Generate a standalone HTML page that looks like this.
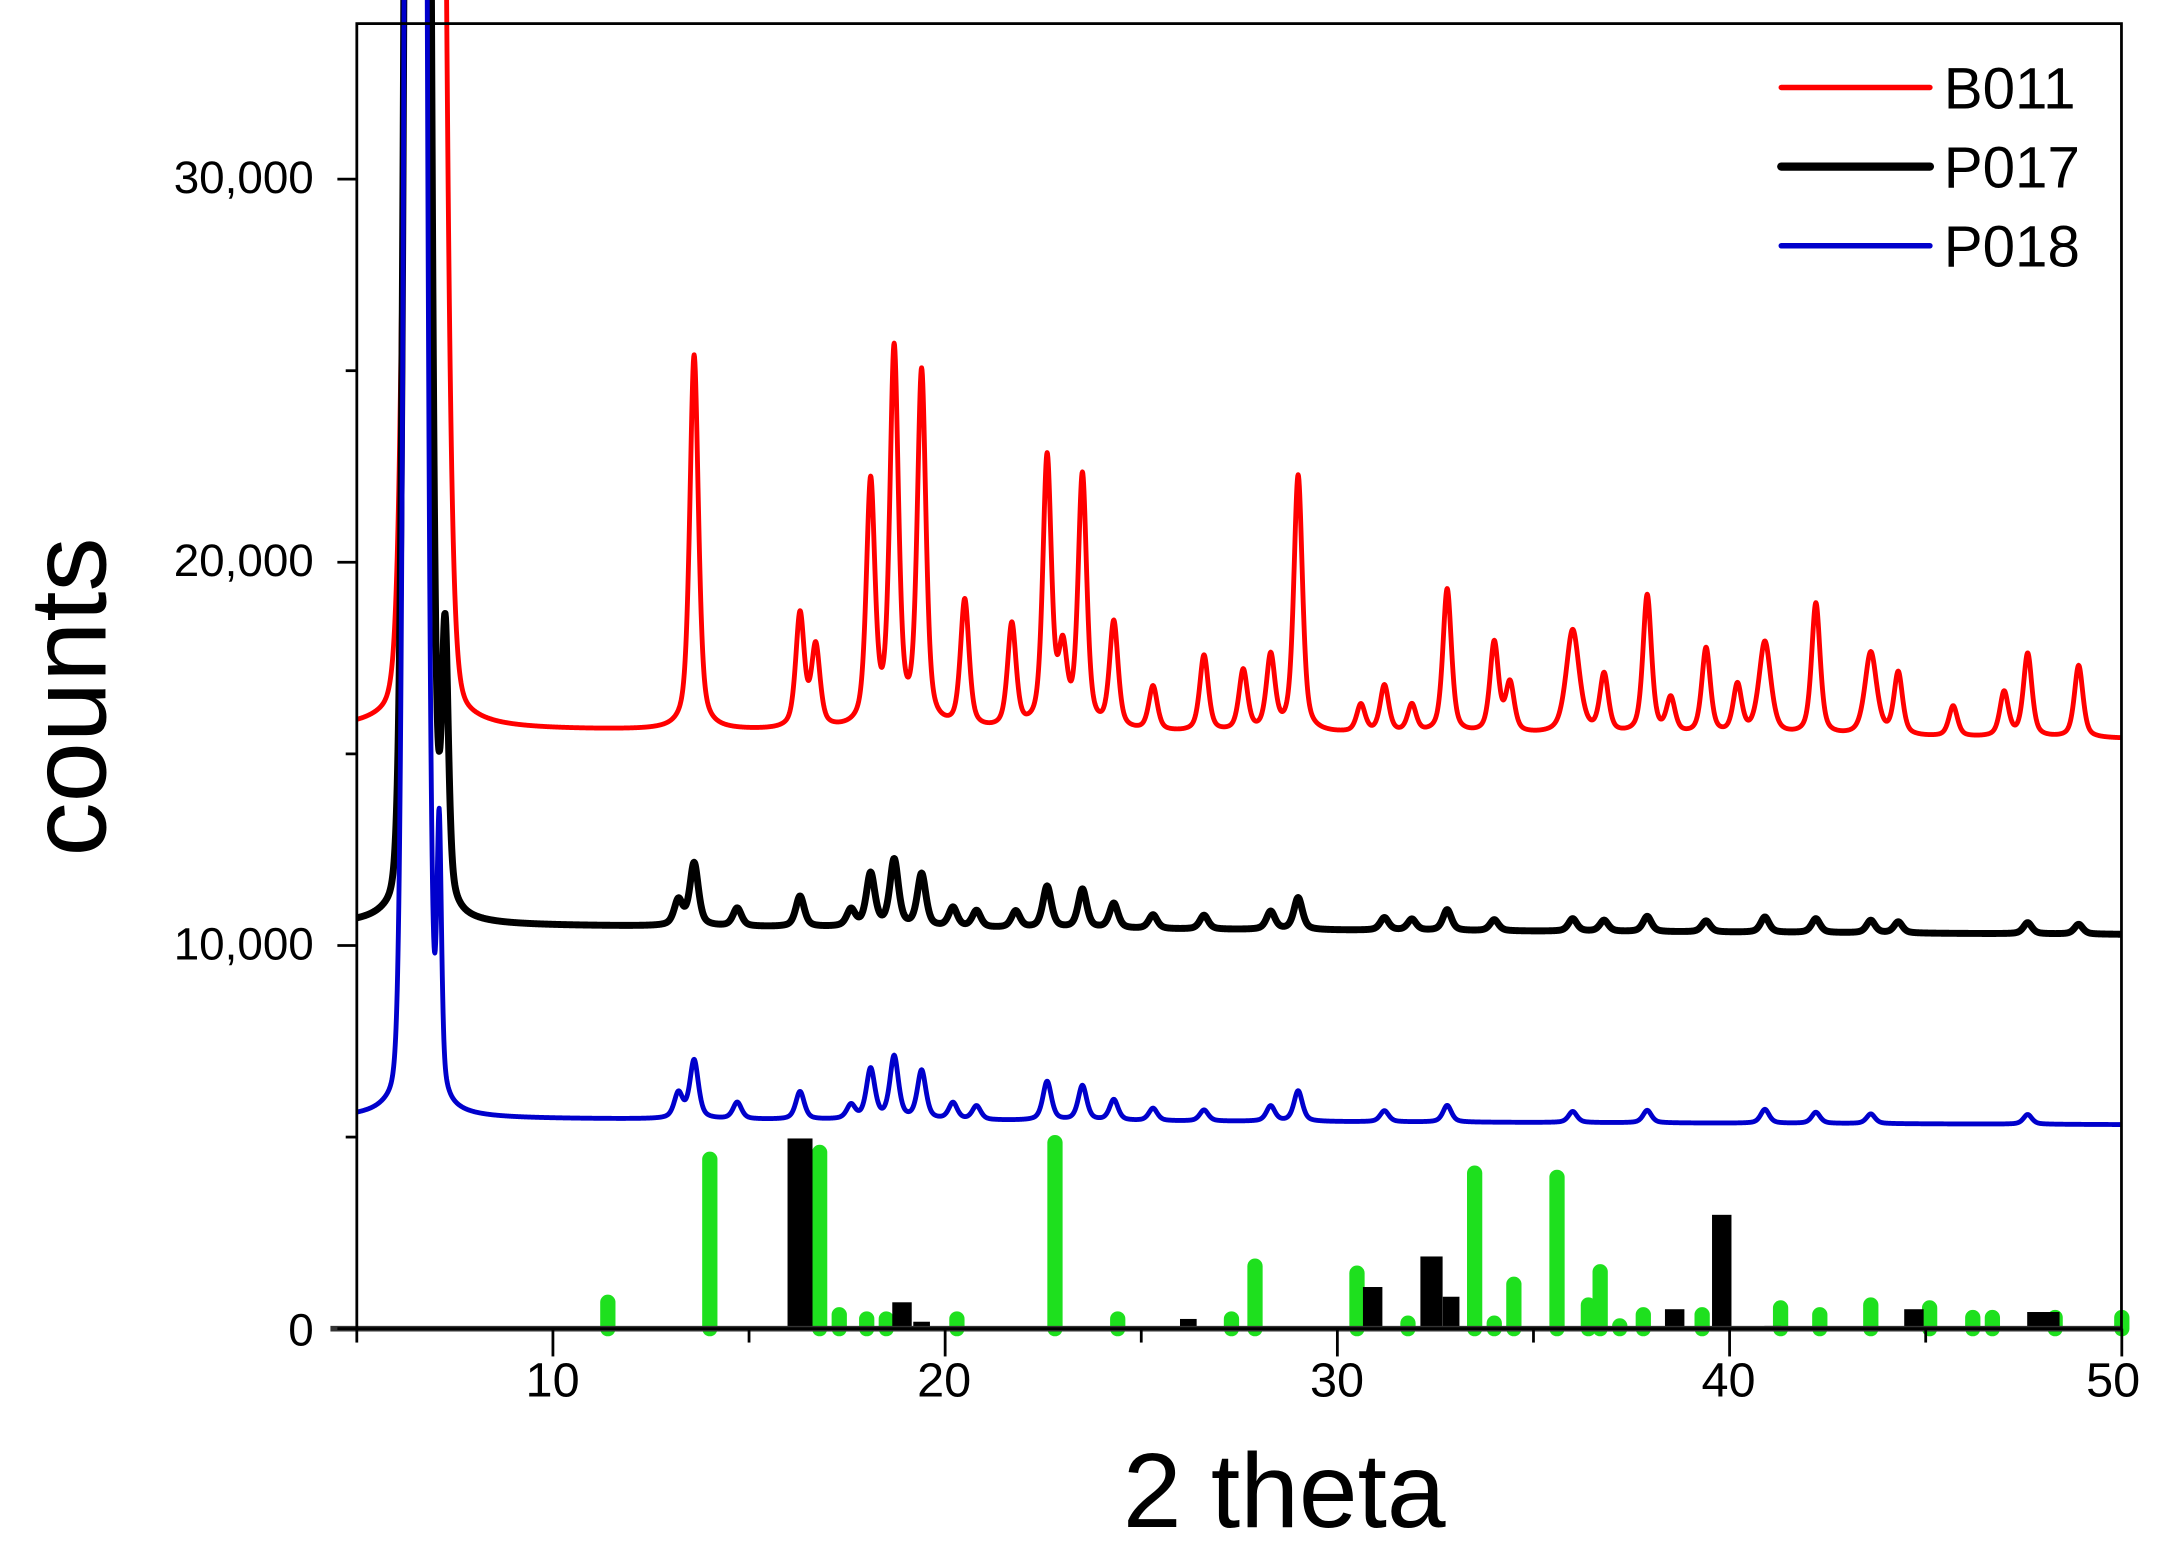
<!DOCTYPE html>
<html><head><meta charset="utf-8">
<style>
html,body{margin:0;padding:0;background:#fff;width:2177px;height:1554px;overflow:hidden}
svg{display:block}
text{font-family:"Liberation Sans",Arial,sans-serif;fill:#000}
</style></head>
<body>
<svg id="s" width="2177" height="1554" viewBox="0 0 1568 1119.3" preserveAspectRatio="none">
<g id="bars"></g>
<g id="curves" fill="none" stroke-linejoin="round"></g>
<line x1="238" y1="957" x2="1528" y2="957" stroke="#333" stroke-width="4"/>
<rect x="257" y="17" width="1271" height="940" fill="none" stroke="#000" stroke-width="2"/>
<g id="ticks" stroke="#000" stroke-width="2"></g>
<g font-size="33" text-anchor="end">
<text x="226" y="139">30,000</text>
<text x="226" y="415">20,000</text>
<text x="226" y="691">10,000</text>
<text x="226" y="969">0</text>
</g>
<g font-size="35" text-anchor="middle">
<text x="398" y="1006">10</text>
<text x="680" y="1006">20</text>
<text x="963" y="1006">30</text>
<text x="1245" y="1006">40</text>
<text x="1522" y="1006">50</text>
</g>
<text x="925" y="1100" font-size="76" text-anchor="middle">2 theta</text>
<text transform="translate(76,502) rotate(-90)" font-size="78" text-anchor="middle">counts</text>
<g stroke-linecap="round">
<line x1="1283" y1="63" x2="1390" y2="63" stroke="#f00" stroke-width="4"/>
<line x1="1283" y1="120" x2="1390" y2="120" stroke="#000" stroke-width="6"/>
<line x1="1283" y1="177" x2="1390" y2="177" stroke="#00c" stroke-width="4"/>
</g>
<g font-size="42">
<text x="1400" y="78">B011</text>
<text x="1400" y="135">P017</text>
<text x="1400" y="192">P018</text>
</g>
</svg>
<script>
var NS="http://www.w3.org/2000/svg";
function X(t){return 257+(t-5)*28.25;}
function el(n,a,p){var e=document.createElementNS(NS,n);for(var k in a)e.setAttribute(k,a[k]);p.appendChild(e);return e;}
var ticks=document.getElementById('ticks');
for(var v=0;v<=33000;v+=5000){var y=957-v*0.0276;var L=(v%10000==0)?14:8;el('line',{x1:257-L,y1:y,x2:257,y2:y},ticks);}
for(var t=5;t<=50;t+=5){var x=X(t);var L=(t%10==0)?20:10;el('line',{x1:x,y1:957,x2:x,y2:957+L},ticks);}
var bars=document.getElementById('bars');
var green=[[11.4,933],[14.0,830],[16.8,825],[17.3,942],[18.0,945],[18.5,945],[20.3,945],[22.8,818],[24.4,945],[27.3,945],[27.9,907],[30.5,912],[31.8,948],[33.5,840],[34.0,948],[34.5,920],[35.6,843],[36.4,935],[36.7,911],[37.2,950],[37.8,942],[39.3,942],[41.3,937],[42.3,942],[43.6,935],[45.1,937],[46.2,944],[46.7,944],[48.3,944],[50,944]];
green.forEach(function(g){var x=X(g[0]);el('line',{x1:x,y1:g[1]+5,x2:x,y2:957,stroke:'#1ee01e','stroke-width':11,'stroke-linecap':'round'},bars);});
var black=[[16.3,820,18],[18.9,938,14],[19.4,952,12],[26.2,950,12],[30.9,927,14],[32.4,905,16],[32.9,934,12],[38.6,943,14],[39.8,875,14],[41.1,955,12],[44.7,943,14],[47.8,945,12],[48.2,945,12]];
black.forEach(function(b){var x=X(b[0]);el('rect',{x:x-b[2]/2,y:b[1],width:b[2],height:957-b[1],fill:'#000'},bars);});
function curve(base,peaks,big,color,w,slope){
  var d='';
  for(var t=5;t<=50;t+=0.01){
    var y=(slope||0)*(50-t);
    peaks.forEach(function(p){var hw=p[2]||0.13;var u=(t-p[0])/hw;y+=p[1]*(0.55/(1+u*u)+0.45*Math.exp(-0.693*u*u));});
    big.forEach(function(p){var u=(t-p[0])/p[2];y+=p[1]*Math.exp(-0.5*u*u);var v=(t-p[0])/p[4];y+=p[3]/(1+v*v);});
    var yy=base-y; if(yy<-50)yy=-50;
    d+=(d?'L':'M')+X(t).toFixed(2)+','+yy.toFixed(2);
  }
  el('path',{d:d,stroke:color,'stroke-width':w},document.getElementById('curves'));
}
var red=[[13.6,270],[16.3,82],[16.7,58],[18.1,175],[18.7,270],[19.4,255],[20.5,92],[21.7,75],[22.6,195],[23.0,52],[23.5,182],[24.3,77],[25.3,32],[26.6,55],[27.6,44],[28.3,54],[29.0,185],[30.6,20],[31.2,34],[31.9,20],[32.8,104],[34.0,65],[34.4,35],[36.0,75,0.2],[36.8,42],[37.9,100],[38.5,25],[39.4,62],[40.2,35],[40.9,67,0.18],[42.2,95],[43.6,60,0.18],[44.3,45],[45.7,22],[47.0,32],[47.6,60],[48.9,52]];
curve(532,red,[[6.75,4000,0.26,350,0.25]],'#f00',3.5,0.15);
var blk=[[7.25,200,0.1],[13.2,18],[13.6,45],[14.7,13],[16.3,22],[17.6,12],[18.1,38],[18.7,48],[19.4,38],[20.2,14],[20.8,12],[21.8,12],[22.6,30],[23.5,28],[24.3,18],[25.3,10],[26.6,10],[28.3,13],[29.0,23],[31.2,9],[31.9,8],[32.8,15],[34.0,8],[36.0,9],[36.8,8],[37.9,11],[39.4,8],[40.9,11],[42.2,10],[43.6,9],[44.3,8],[47.6,8],[48.9,7]];
curve(673,blk,[[6.55,4000,0.18,300,0.2]],'#000',5,0.15);
var blu=[[7.1,195,0.07],[13.2,18],[13.6,42],[14.7,12],[16.3,20],[17.6,10],[18.1,36],[18.7,45],[19.4,35],[20.2,12],[20.8,10],[22.6,28],[23.5,25],[24.3,15],[25.3,9],[26.6,8],[28.3,11],[29.0,22],[31.2,8],[32.8,12],[36.0,8],[37.9,9],[40.9,10],[42.2,8],[43.6,7],[47.6,7]];
curve(810,blu,[[6.5,4000,0.16,250,0.2]],'#00c',3.5,0.1);
</script>
</body></html>
